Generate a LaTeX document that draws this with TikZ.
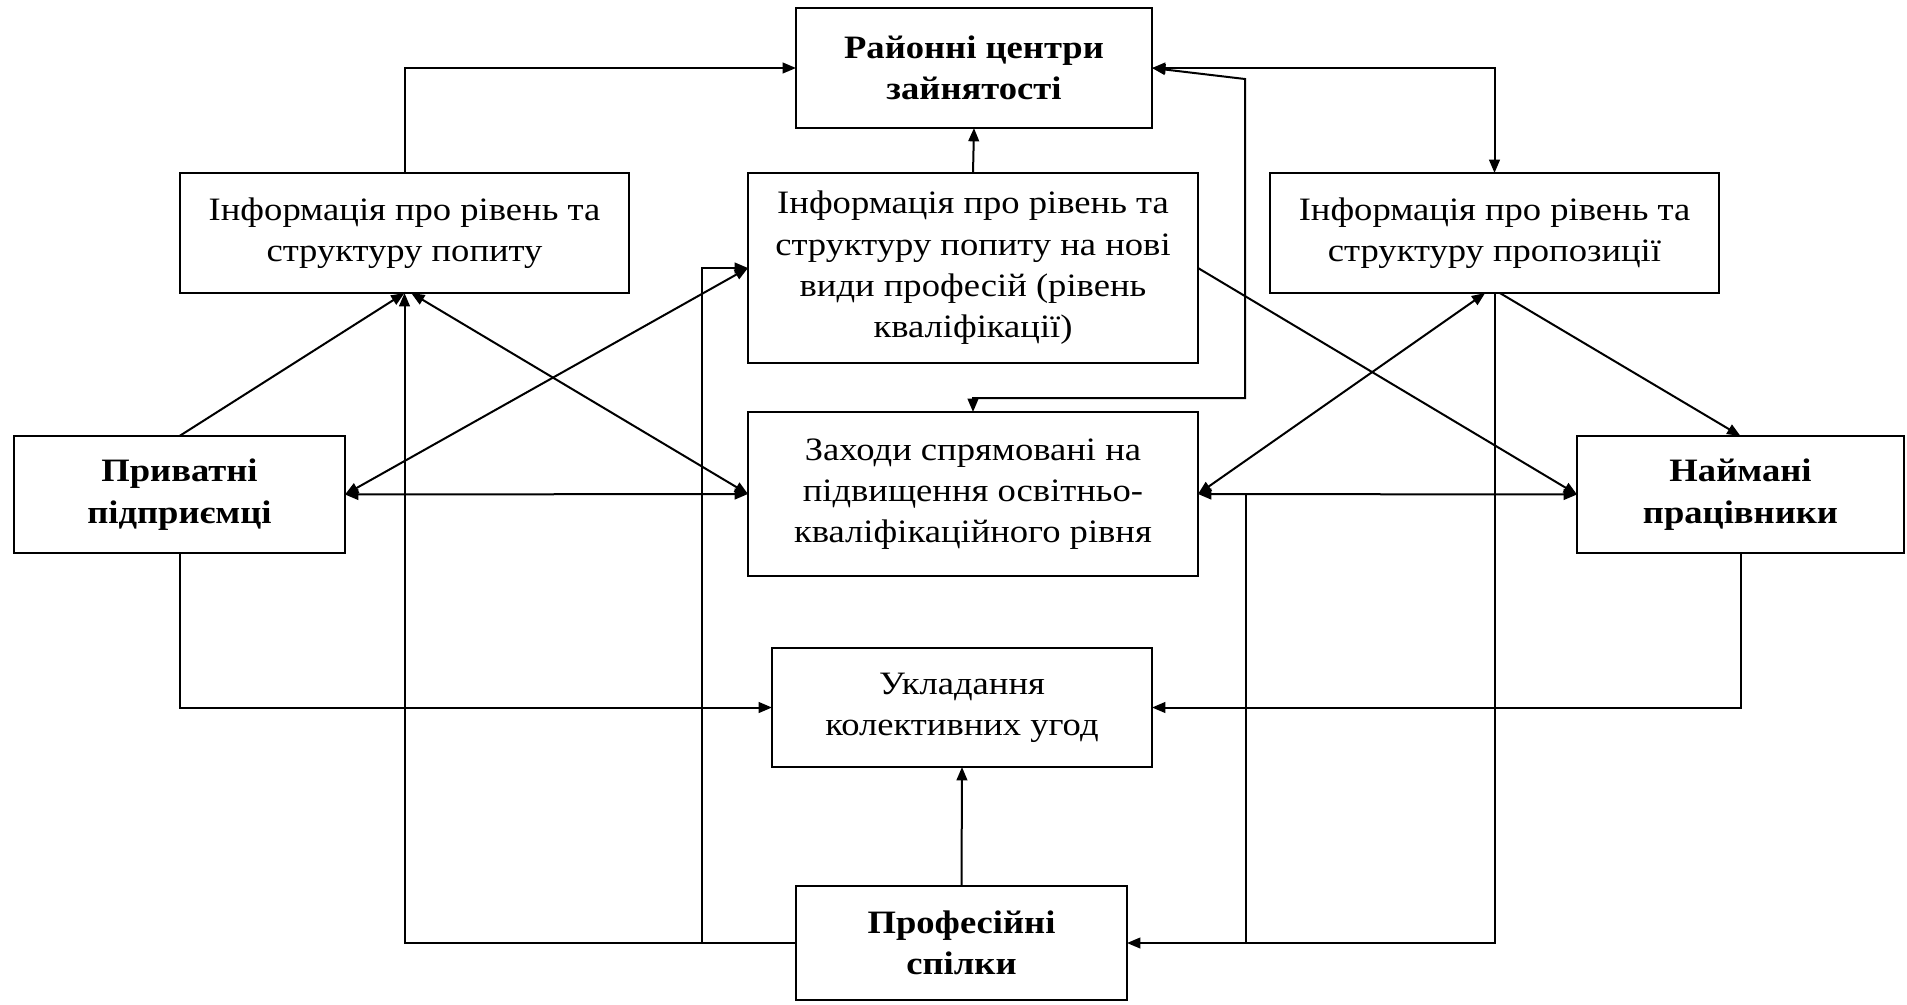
\documentclass[tikz,border=0pt]{standalone}
\usepackage{fontspec}
\setmainfont{Liberation Serif}[FakeStretch=1.12]
\usetikzlibrary{arrows.meta}
\begin{document}
\begin{tikzpicture}[x=0.75pt,y=-0.75pt,
  >={Triangle[length=10pt,width=8pt]},
  box/.style={draw, line width=1.5pt, align=center, inner sep=0pt, outer sep=0pt,
    font=\fontsize{24.5pt}{31pt}\selectfont},
  boldbox/.style={box, font=\fontsize{24.5pt}{31pt}\selectfont\bfseries},
  link/.style={line width=1.5pt}]

% canvas
\fill[white] (0,0) rectangle (1907,1004);
\useasboundingbox (0,0) rectangle (1907,1004);

% boxes
\node[boldbox, minimum width=267pt, minimum height=90pt] (rc) at (974,68)
  {Районні центри\\зайнятості};
\node[box, minimum width=336.75pt, minimum height=90pt] (infL) at (404.5,233)
  {Інформація про рівень та\\структуру попиту};
\node[box, minimum width=337.5pt, minimum height=142.5pt] (infM) at (973,268)
  {Інформація про рівень та\\структуру попиту на нові\\види професій (рівень\\кваліфікації)};
\node[box, minimum width=336.75pt, minimum height=90pt] (infR) at (1494.5,233)
  {Інформація про рівень та\\структуру пропозиції};
\node[boldbox, minimum width=248.25pt, minimum height=87.75pt] (priv) at (179.5,494.5)
  {Приватні\\підприємці};
\node[box, minimum width=337.5pt, minimum height=123pt] (zax) at (973,494)
  {Заходи спрямовані на\\підвищення освітньо-\\кваліфікаційного рівня};
\node[boldbox, minimum width=245.25pt, minimum height=87.75pt] (naim) at (1740.5,494.5)
  {Наймані\\працівники};
\node[box, minimum width=285pt, minimum height=89.25pt] (ukl) at (962,707.5)
  {Укладання\\колективних угод};
\node[boldbox, minimum width=248.25pt, minimum height=85.5pt] (prof) at (961.5,943)
  {Професійні\\спілки};

% bend and junction points
\coordinate (b1) at (1245,79);
\coordinate (b2) at (1245,398);
\coordinate (j1) at (702,943);
\coordinate (j2) at (1246,494);
\coordinate (j3) at (1246,943);

% upper level
\draw[link,->] (infL.north) |- (rc.west);
\draw[link,->] (infM.north) -- (rc.south);
\draw[link,<->] (rc.east) -| (infR.north);
\draw[link,<->] (rc.east) -- (b1) -- (b2) -| (zax.north);

% left cluster
\draw[link,->] (priv.north) -- (infL.south);
\draw[link,<->] (priv.east) -- (infM.west);
\draw[link,<->] ([xshift=5pt]infL.south) -- (zax.west);
\draw[link,<->] (priv.east) -- (zax.west);

% right cluster
\draw[link,->] (infM.east) -- (naim.west);
\draw[link,<->] (zax.east) -- ([xshift=-7pt]infR.south);
\draw[link,->] ([xshift=4pt]infR.south) -- (naim.north);
\draw[link,<->] (zax.east) -- (naim.west);

% collective agreements
\draw[link,->] (priv.south) |- (ukl.west);
\draw[link,->] (naim.south) |- (ukl.east);
\draw[link,->] (prof.north) -- (ukl.south);

% trade unions
\draw[link,->] (prof.west) -| (infL.south);
\draw[link,->] (j1) |- (infM.west);
\draw[link,->] (infR.south) |- (prof.east);
\draw[link] (j2) -- (j3);

\end{tikzpicture}
\end{document}
